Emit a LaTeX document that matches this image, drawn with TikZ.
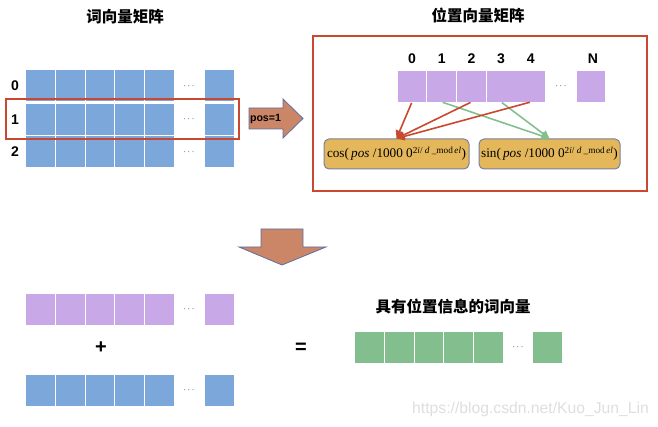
\documentclass[tikz,border=0pt]{standalone}
\usepackage{fontspec}
\setmainfont{Liberation Serif}
\setsansfont{Liberation Sans}
\newfontfamily\cjk{Noto Sans CJK SC}
\usetikzlibrary{arrows.meta,calc}
\definecolor{cblue}{RGB}{123,167,218}
\definecolor{cpurple}{RGB}{200,168,230}
\definecolor{cgreen}{RGB}{131,190,143}
\definecolor{corange}{RGB}{228,183,90}
\definecolor{cbrown}{RGB}{203,133,103}
\definecolor{cred}{RGB}{200,73,47}
\definecolor{cgarrow}{RGB}{130,192,142}
\definecolor{cborder}{RGB}{95,110,160}
\definecolor{cfborder}{RGB}{120,128,160}
\definecolor{cwm}{RGB}{222,222,222}
\begin{document}
\begin{tikzpicture}[x=1pt,y=-1pt,
  cell/.style={minimum width=28.8pt,minimum height=31pt,inner sep=0pt,outer sep=0pt,draw=none},
  bcell/.style={cell,fill=cblue},
  pcell/.style={cell,fill=cpurple},
  gcell/.style={cell,fill=cgreen},
  dotsnode/.style={inner sep=0pt,font=\fontsize{9}{9}\selectfont},
  title/.style={font=\cjk\bfseries\fontsize{15.5}{16}\selectfont,inner sep=0pt},
  idx/.style={font=\sffamily\bfseries\fontsize{14}{14}\selectfont,inner sep=0pt},
  op/.style={font=\sffamily\bfseries\fontsize{20}{20}\selectfont,inner sep=0pt},
  frame/.style={draw=cred,line width=2pt},
  bigarrow/.style={fill=cbrown,draw=cborder,line width=0.8pt,line join=miter},
  fbox/.style={draw=cfborder,fill=corange,line width=1pt,rounded corners=5pt,inner sep=0pt,
    font=\fontsize{13.2}{14}\selectfont},
  redarrow/.style={draw=cred,line width=1.6pt,-{Triangle[length=8pt,width=8pt]},shorten <=1pt},
  greenarrow/.style={draw=cgarrow,line width=1.6pt,-{Triangle[length=8pt,width=8pt]},shorten <=1pt}
]
\useasboundingbox (0,0) rectangle (658,427);

% ---------- word matrix ----------
\node[title] (t1) at (125,17) {词向量矩阵};
\foreach \r/\y in {0/86,1/119.5,2/152}{
  \foreach \c/\x in {0/40.5,1/70.2,2/99.9,3/129.6,4/159.3}{
    \node[bcell] (w\r c\c) at (\x,\y) {};
  }
  \node[dotsnode] (w\r d) at (189,\y) {$\cdots$};
  \node[bcell] (w\r n) at (219.5,\y) {};
  \node[idx] (l\r) at (15,\y) {\r};
}
\node[frame,minimum width=233pt,minimum height=40pt,inner sep=0pt] (rowbox) at (122.5,119) {};

% ---------- pos=1 arrow ----------
\draw[bigarrow] (249,108) -- (283,108) -- (283,99) -- (303,118.5) -- (283,138) -- (283,129) -- (249,129) -- cycle;
\node[font=\sffamily\bfseries\fontsize{10.6}{11}\selectfont,inner sep=0pt] (posl) at (265.5,118.5) {pos=1};

% ---------- position matrix ----------
\node[title] (t2) at (478,16) {位置向量矩阵};
\node[frame,line width=2.5pt,minimum width=334pt,minimum height=155pt,inner sep=0pt] (posbox) at (480,113.5) {};
\foreach \c/\x in {0/412,1/441.7,2/471.4,3/501.1,4/530.8}{
  \node[pcell] (p\c) at (\x,86.5) {};
  \node[idx] (n\c) at (\x,59) {\c};
}
\node[dotsnode] (pd) at (561,86.5) {$\cdots$};
\node[pcell] (pN) at (591,86.5) {};
\node[idx] (nN) at (593,59) {N};

\node[fbox,minimum width=145pt,minimum height=30pt] (cos) at (396.5,154)
  {cos(\,\textit{pos} /1000 0\textsuperscript{2\textit{i}/ \textit{d} \_mod\,\textit{el}})};
\node[fbox,minimum width=141pt,minimum height=30pt] (sin) at (549.5,154)
  {sin(\,\textit{pos} /1000 0\textsuperscript{2\textit{i}/ \textit{d} \_mod\,\textit{el}})};

\draw[greenarrow] (p1.south) -- (sin.north);
\draw[greenarrow] (p3.south) -- (sin.north);
\draw[redarrow] (p0.south) -- (cos.north);
\draw[redarrow] (p2.south) -- (cos.north);
\draw[redarrow] (p4.south) -- (cos.north);

% ---------- down arrow ----------
\draw[bigarrow] (261,229) -- (303,229) -- (303,247) -- (326,247) -- (282,265) -- (239,247) -- (261,247) -- cycle;

% ---------- bottom ----------
\foreach \c/\x in {0/40.5,1/70.2,2/99.9,3/129.6,4/159.3}{
  \node[pcell] (bp\c) at (\x,309.5) {};
  \node[bcell] (bb\c) at (\x,390.5) {};
}
\node[dotsnode] (bpd) at (189,309.5) {$\cdots$};
\node[pcell] (bpn) at (219.5,309.5) {};
\node[dotsnode] (bbd) at (189,390.5) {$\cdots$};
\node[bcell] (bbn) at (219.5,390.5) {};
\node[op] (plus) at (101,348) {+};
\node[op] (eq) at (301,348) {=};

\node[title] (t3) at (453,306) {具有位置信息的词向量};
\foreach \c/\x in {0/369.5,1/399.2,2/428.9,3/458.6,4/488.3}{
  \node[gcell] (g\c) at (\x,347.5) {};
}
\node[dotsnode] (gd) at (518,347.5) {$\cdots$};
\node[gcell] (gn) at (547.5,347.5) {};

\node[font=\sffamily\fontsize{15.7}{16}\selectfont,text=cwm,inner sep=0pt] (wm) at (530.5,409) {https://blog.csdn.net/Kuo\_Jun\_Lin};
\end{tikzpicture}
\end{document}
